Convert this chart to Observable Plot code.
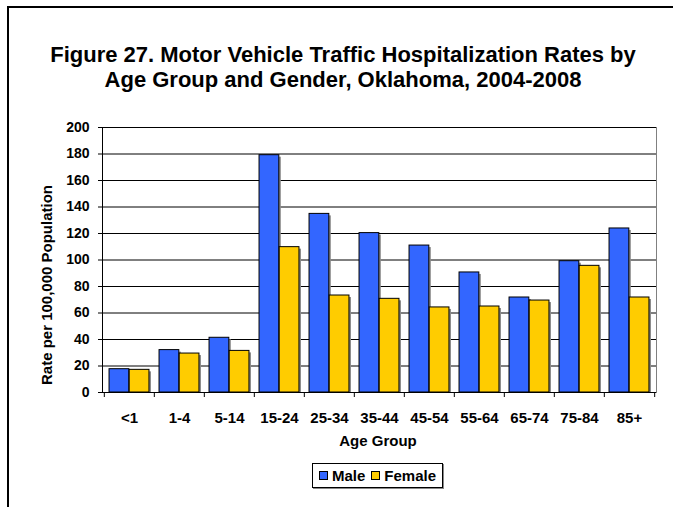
<!DOCTYPE html>
<html><head><meta charset="utf-8">
<script src="https://cdn.jsdelivr.net/npm/d3@7"></script>
<script src="https://cdn.jsdelivr.net/npm/@observablehq/plot@0.6"></script>
<style>
body{margin:0;background:#fff;font-family:Arial,"Liberation Sans",sans-serif;}
#wrap{position:relative;width:673px;height:507px;overflow:hidden;background:#fff;}
#border{position:absolute;left:7px;top:6px;width:800px;height:800px;border:2px solid #000;}
#title{position:absolute;left:0;width:686px;top:42px;text-align:center;font-weight:bold;font-size:22px;line-height:25px;color:#000;}
#chart{position:absolute;left:0;top:0;}
#ylab{position:absolute;left:45.5px;top:285px;transform:translate(-50%,-50%) rotate(-90deg);white-space:nowrap;font-weight:bold;font-size:15px;line-height:17px;}
#xlab{position:absolute;left:0;width:756px;top:433px;text-align:center;font-weight:bold;font-size:15px;line-height:15px;}
#legend{position:absolute;left:312px;top:463px;width:129px;height:23px;border:1px solid #000;box-shadow:1px 1px 0 #888;display:flex;align-items:center;justify-content:center;font-weight:bold;font-size:15px;gap:0;}
.sw{display:inline-block;width:7px;height:7px;border:1px solid #000;margin:0 4px 0 0;}
.item{display:flex;align-items:center;margin:0 3px;}
</style>
</head><body>
<div id="wrap">
  <div id="border"></div>
  <div id="title">Figure 27. Motor Vehicle Traffic Hospitalization Rates by<br>Age Group and Gender, Oklahoma, 2004-2008</div>
  <div id="chart"></div>
  <div id="ylab">Rate per 100,000 Population</div>
  <div id="xlab">Age Group</div>
  <div id="legend"></div>
</div>
<script>
const ages = ["<1","1-4","5-14","15-24","25-34","35-44","45-54","55-64","65-74","75-84","85+"];
const male = [17.6, 32.0, 41.3, 179.1, 134.8, 120.3, 110.9, 90.6, 71.7, 99.1, 123.8];
const female = [17.1, 29.4, 31.4, 109.7, 73.2, 70.7, 64.2, 64.9, 69.4, 95.6, 71.7];
const seriesNames = ["Male","Female"];
const seriesColors = ["#3366FF","#FFCC00"];
const yTicks = [0,20,40,60,80,100,120,140,160,180,200];

const W = 673, H = 507, ML = 102, MR = 17, MT = 127, MB = 115;
const bw = (W - ML - MR) / ages.length;

const maleData = ages.map((a,i) => ({age:a, value:male[i]}));
const femaleData = ages.map((a,i) => ({age:a, value:female[i]}));

function bars(data, color, iL, iR) {
  return [
    Plot.barY(data, {x:"age", y:"value", fill:"#8a8a8a", dx:2, dy:2, insetBottom:2, insetLeft:iL, insetRight:iR}),
    Plot.barY(data, {x:"age", y:"value", fill:color, stroke:"#000", strokeWidth:1, insetLeft:iL, insetRight:iR})
  ];
}

const chart = Plot.plot({
  width: W, height: H,
  marginLeft: ML, marginRight: MR, marginTop: MT, marginBottom: MB,
  style: {fontFamily: "Arial, 'Liberation Sans', sans-serif", fontSize: "15px", fontWeight: "bold", color: "#000", background: "transparent"},
  x: {domain: ages, padding: 0, label: null},
  y: {domain: [0, 200], label: null},
  marks: [
    Plot.gridY(yTicks, {stroke: "#000", strokeOpacity: 1}),
    Plot.frame({stroke: "#808080"}),
    ...bars(maleData, seriesColors[0], 0.1*bw, 0.5*bw),
    ...bars(femaleData, seriesColors[1], 0.5*bw, 0.1*bw),
    Plot.ruleY([0], {stroke: "#000"}),
    Plot.ruleY([200], {stroke: "#000"}),
    Plot.frame({anchor: "left", stroke: "#000"}),
    Plot.axisY(yTicks, {tickSize: 4, tickPadding: 9, fontSize: 14, label: null}),
    Plot.axisX({tickSize: 5, tickFormat: () => "", dx: -bw/2, label: null}),
    Plot.axisX([ages[ages.length-1]], {tickSize: 5, tickFormat: () => "", dx: bw/2, label: null}),
    Plot.axisX({tickSize: 0, tickPadding: 20, label: null})
  ]
});
document.getElementById("chart").appendChild(chart);

const leg = document.getElementById("legend");
seriesNames.forEach((n,i) => {
  const it = document.createElement("span"); it.className = "item";
  const sw = document.createElement("span"); sw.className = "sw"; sw.style.background = seriesColors[i];
  it.appendChild(sw); it.appendChild(document.createTextNode(n));
  leg.appendChild(it);
});
</script>
</body></html>
